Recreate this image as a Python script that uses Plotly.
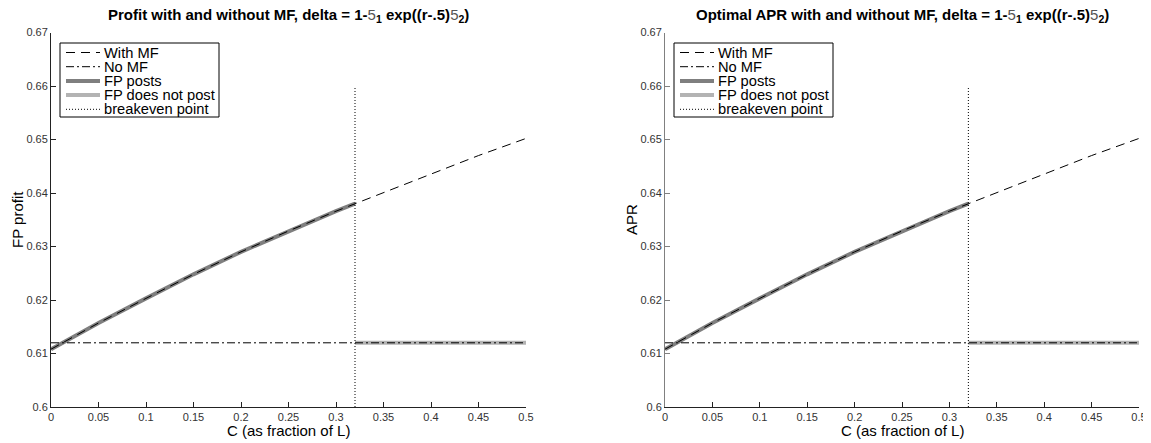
import plotly.graph_objects as go

# ---- data ----
c_vals = [0.0, 0.05, 0.10, 0.15, 0.20, 0.25, 0.30, 0.32, 0.35, 0.40, 0.45, 0.50]
with_mf = [0.6108, 0.6157, 0.6203, 0.6248, 0.6290, 0.6329, 0.6366, 0.6380, 0.6401, 0.6436, 0.6470, 0.6502]
no_mf_level = 0.6120
breakeven_c = 0.32
breakeven_y = [0.60, 0.66]
x_ticks = [0, 0.05, 0.1, 0.15, 0.2, 0.25, 0.3, 0.35, 0.4, 0.45, 0.5]
y_ticks = [0.6, 0.61, 0.62, 0.63, 0.64, 0.65, 0.66, 0.67]
titles = ["Profit with and without MF, delta = 1-", "Optimal APR with and without MF, delta = 1-"]
y_titles = ["FP profit", "APR"]
x_title = "C (as fraction of L)"
legend_names = ["With MF", "No MF", "FP posts", "FP does not post", "breakeven point"]

FONT = "Liberation Sans, Arial, Helvetica, sans-serif"
W, H = 1151, 443
OFF = 8                      # default body margin of the html page
FW, FH = W - OFF, H - OFF


def px(X):
    return (X - OFF) / FW


def py(Y):
    return 1 - (Y - OFF) / FH


no_mf = [no_mf_level for _ in c_vals]
posts_x = [c for c in c_vals if c <= breakeven_c]
posts_y = [v for c, v in zip(c_vals, with_mf) if c <= breakeven_c]
notpost_x = [c for c in c_vals if c >= breakeven_c]
notpost_y = [no_mf_level for c in notpost_x]

POSTS_C, NOTPOST_C = "#7f7f7f", "#b3b3b3"
DASH_MF, DASH_NO, DASH_BE = "9px,6px", "8px,3px,2px,3px", "1px,2px"

fig = go.Figure()

left_px = [51, 665]
right_px = [526, 1139]
dom_y = [py(407), py(32.5)]

for i in range(2):
    xa = "x" if i == 0 else "x2"
    ya = "y" if i == 0 else "y2"
    common = dict(xaxis=xa, yaxis=ya, mode="lines", showlegend=False, hoverinfo="skip")
    fig.add_trace(go.Scatter(x=posts_x, y=posts_y, name="FP posts",
                             line=dict(color=POSTS_C, width=4), **common))
    fig.add_trace(go.Scatter(x=notpost_x, y=notpost_y, name="FP does not post",
                             line=dict(color=NOTPOST_C, width=4), **common))
    fig.add_trace(go.Scatter(x=c_vals, y=with_mf, name="With MF",
                             line=dict(color="black", width=1, dash=DASH_MF), **common))
    fig.add_trace(go.Scatter(x=c_vals, y=no_mf, name="No MF",
                             line=dict(color="black", width=1, dash=DASH_NO), **common))
    fig.add_trace(go.Scatter(x=[breakeven_c, breakeven_c], y=breakeven_y, name="breakeven point",
                             line=dict(color="black", width=1, dash=DASH_BE), **common))

axis_common = dict(showgrid=False, zeroline=False, ticks="inside", ticklen=5,
                   tickfont=dict(family=FONT, size=11, color="#333333"),
                   showline=True, mirror=False, automargin=False)

layout = dict(
    width=FW, height=FH, margin=dict(l=0, r=0, t=0, b=0),
    paper_bgcolor="white", plot_bgcolor="white",
    font=dict(family=FONT, color="black"),
    showlegend=False,
)
shapes = []
annotations = []
for i in range(2):
    xk = "xaxis" if i == 0 else "xaxis2"
    yk = "yaxis" if i == 0 else "yaxis2"
    layout[xk] = dict(domain=[px(left_px[i]), px(right_px[i])], range=[0, 0.5], tickvals=x_ticks,
                      ticktext=[f"{t:g}" for t in x_ticks], linecolor="#222222",
                      tickcolor="#222222", anchor="y" if i == 0 else "y2",
                      **axis_common)
    layout[yk] = dict(domain=dom_y, range=[0.6, 0.67], tickvals=y_ticks,
                      ticktext=[f"{t:g}" for t in y_ticks],
                      linecolor="#222222" if i == 0 else "#808080",
                      tickcolor="#222222" if i == 0 else "#808080",
                      anchor="x" if i == 0 else "x2",
                      **axis_common)

    ox = left_px[i] - 51
    # axis titles
    annotations.append(dict(x=px((left_px[i] + right_px[i]) / 2), y=py(430), xref="paper", yref="paper",
                            text=x_title, showarrow=False, xanchor="center", yanchor="middle",
                            font=dict(family=FONT, size=15, color="black")))
    annotations.append(dict(x=px(18 + ox), y=py(220), xref="paper", yref="paper",
                            text=y_titles[i], showarrow=False, xanchor="center", yanchor="middle",
                            textangle=-90, font=dict(family=FONT, size=15, color="black")))
    # title
    txt = ("<b>" + titles[i] + "</b><span style='color:#555'>5</span><sub><b>1</b></sub>"
           " <b>exp((r-.5)</b><span style='color:#555'>5</span><sub><b>2</b></sub><b>)</b>")
    annotations.append(dict(x=px((left_px[i] + right_px[i]) / 2), y=py(15.5), xref="paper", yref="paper",
                            text=txt, showarrow=False, xanchor="center", yanchor="middle",
                            font=dict(family=FONT, size=15, color="black")))

    # manual legend (box, samples, labels)
    shapes.append(dict(type="rect", xref="paper", yref="paper",
                       x0=px(60 + ox), x1=px(219 + ox), y0=py(117), y1=py(43),
                       line=dict(color="black", width=1), fillcolor="white", layer="above"))
    styles = [dict(color="black", width=1, dash=DASH_MF),
              dict(color="black", width=1, dash=DASH_NO),
              dict(color=POSTS_C, width=4),
              dict(color=NOTPOST_C, width=4),
              dict(color="black", width=1, dash=DASH_BE)]
    for k, name in enumerate(legend_names):
        yy = 52.5 + 14.2 * k
        shapes.append(dict(type="line", xref="paper", yref="paper",
                           x0=px(66 + ox), x1=px(100 + ox), y0=py(yy), y1=py(yy),
                           line=styles[k], layer="above"))
        annotations.append(dict(x=px(102 + ox), y=py(yy), xref="paper", yref="paper",
                                text=name, showarrow=False, xanchor="left", yanchor="middle",
                                font=dict(family=FONT, size=14.7, color="black")))

layout["shapes"] = shapes
layout["annotations"] = annotations
fig.update_layout(**layout)

fig.write_html("out.html")
